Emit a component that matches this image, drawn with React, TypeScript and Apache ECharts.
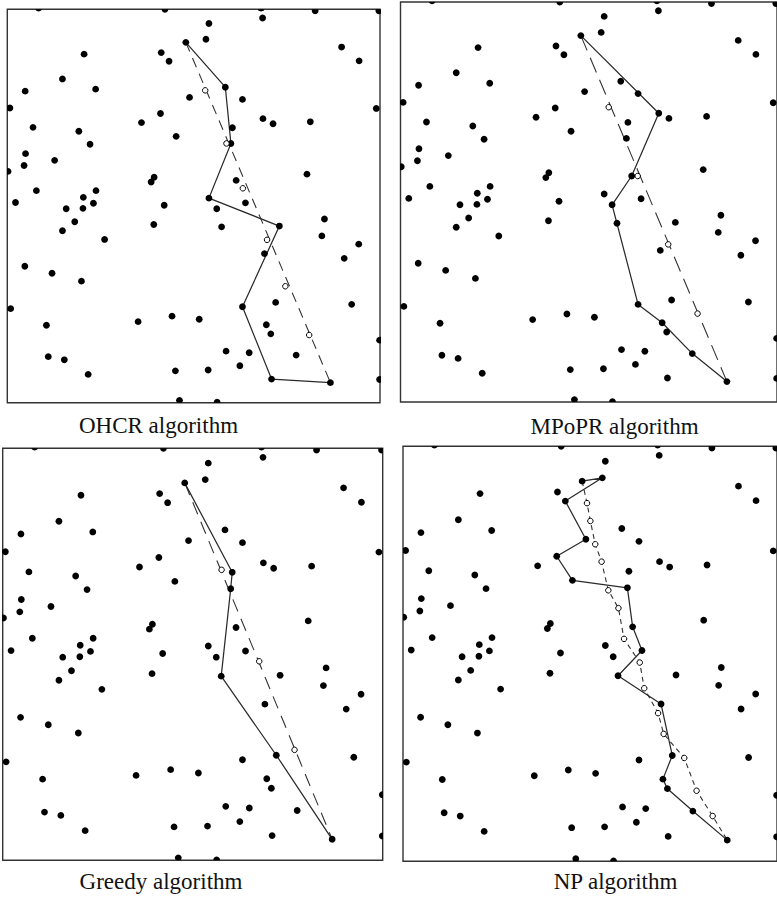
import React, { useEffect, useRef } from "react";
import * as echarts from "echarts";

// Shared scattered nodes, normalised to 0..100 (x to the right, y downward)
const points: number[][] = [
  [42.3, 0.0], [54.1, 3.6], [68.5, 2.2], [82.6, 0.4], [99.7, 0.4],
  [47.9, 8.4], [53.3, 7.6], [89.7, 9.6], [94.4, 13.1], [20.6, 11.4],
  [41.3, 11.0], [43.4, 13.2], [14.8, 17.7], [23.7, 20.3], [4.8, 20.8],
  [58.5, 19.8], [48.9, 22.4], [63.1, 22.9], [0.7, 25.1], [99.0, 25.2],
  [41.1, 26.5], [36.0, 28.8], [68.6, 27.8], [71.3, 29.1], [81.3, 28.6],
  [6.9, 30.0], [19.2, 31.0], [60.4, 30.1], [45.3, 32.3], [22.2, 34.3],
  [60.0, 34.1], [4.9, 36.7], [4.5, 39.7], [12.7, 38.4], [0.2, 41.2],
  [39.4, 42.7], [38.6, 43.9], [80.4, 41.9], [61.4, 43.5], [7.8, 46.1],
  [23.8, 46.1], [20.4, 47.8], [2.2, 49.1], [23.1, 49.3], [54.1, 48.0],
  [42.1, 49.8], [63.9, 49.2], [15.8, 50.7], [20.3, 50.6], [56.2, 50.7],
  [18.1, 54.0], [14.8, 56.3], [39.3, 54.7], [57.5, 55.3], [73.0, 55.1],
  [85.1, 53.3], [84.4, 57.6], [94.3, 59.7], [26.1, 58.5], [69.0, 62.1],
  [90.4, 63.3], [4.7, 65.3], [12.0, 67.1], [19.9, 69.1], [0.9, 76.1],
  [63.1, 75.6], [72.0, 74.5], [92.4, 75.0], [10.5, 80.3], [35.1, 79.4],
  [44.2, 78.0], [51.5, 78.8], [69.5, 80.2], [70.7, 82.5], [99.9, 84.1],
  [11.0, 88.3], [15.3, 89.1], [58.7, 86.9], [64.9, 87.3], [62.4, 90.6],
  [77.5, 87.9], [21.7, 92.8], [45.1, 91.9], [53.9, 91.7], [70.9, 94.0],
  [86.7, 94.9], [99.9, 94.1], [46.2, 99.4], [56.3, 99.9],
  [8.4, -0.3], [68.1, -0.3],
];

const pathStart = [47.9, 8.4];
const pathEnd = [86.7, 94.9];

const ohcrRoute = [
  [47.9, 8.4], [58.5, 19.8], [60.0, 34.1], [54.1, 48.0], [73.0, 55.1],
  [63.1, 75.6], [70.9, 94.0], [86.7, 94.9],
];
const ohcrWaypoints = [
  [53.1, 20.6], [58.8, 34.1], [63.2, 45.5], [69.7, 58.6], [74.6, 70.4], [81.0, 82.8],
];

const mpoprRoute = [
  [47.9, 8.4], [68.6, 27.8], [61.4, 43.5], [56.2, 50.7], [63.1, 75.6],
  [69.5, 80.2], [77.5, 87.9], [86.7, 94.9],
];
const mpoprWaypoints = [
  [55.3, 26.3], [63.0, 43.5], [71.1, 60.6], [78.9, 77.9],
];

const greedyRoute = [
  [47.9, 8.4], [60.4, 30.1], [60.0, 34.1], [57.5, 55.3], [72.0, 74.5], [86.7, 94.9],
];
const greedyWaypoints = [
  [57.6, 29.5], [67.5, 51.7], [76.8, 73.2],
];

const npRoute = [
  [47.9, 8.4], [53.3, 7.6], [43.4, 13.2], [48.9, 22.4], [41.1, 26.5],
  [45.3, 32.3], [60.0, 34.1], [61.4, 43.5], [63.9, 49.2], [57.5, 55.3],
  [69.0, 62.1], [72.0, 74.5], [69.5, 80.2], [70.7, 82.5], [77.5, 87.9],
  [86.7, 94.9],
];
const npWaypoints = [
  [49.2, 13.7], [50.1, 18.0], [51.4, 23.6], [53.1, 27.8], [54.9, 34.7],
  [57.6, 39.0], [59.1, 46.4], [63.3, 52.1], [64.5, 58.3], [68.2, 64.3],
  [69.7, 69.3], [75.2, 75.1], [78.5, 83.0], [82.8, 89.1],
];

const panelTitles = ["OHCR algorithm", "MPoPR algorithm", "Greedy algorithm", "NP algorithm"];

const panelData = [
  { route: ohcrRoute, waypoints: ohcrWaypoints, guide: [pathStart, pathEnd] },
  { route: mpoprRoute, waypoints: mpoprWaypoints, guide: [pathStart, pathEnd] },
  { route: greedyRoute, waypoints: greedyWaypoints, guide: [pathStart, pathEnd] },
  { route: npRoute, waypoints: npWaypoints, guide: [pathStart, ...npWaypoints, pathEnd] },
];

const layouts = [
  { left: 7.3, top: 9.3, width: 372.7, height: 393.4, dash: [10, 7], labelX: 158.5, labelY: 425.5 },
  { left: 400.5, top: 2, width: 379.5, height: 400, dash: [16, 8], labelX: 614.5, labelY: 426.5 },
  { left: 2.7, top: 448.3, width: 380, height: 412, dash: [13, 8], labelX: 161, labelY: 881.5 },
  { left: 403, top: 446.3, width: 381, height: 415, dash: [5, 4], labelX: 615.5, labelY: 881 },
];

export default function App() {
  const ref = useRef<HTMLDivElement | null>(null);

  useEffect(() => {
    if (!ref.current) return;
    const chart = echarts.init(ref.current, undefined, { renderer: "svg" });

    const grid = layouts.map((l) => ({
      left: l.left,
      top: l.top,
      width: l.width,
      height: l.height,
      show: true,
      borderColor: "#333",
      borderWidth: 1.4,
      backgroundColor: "transparent",
      containLabel: false,
    }));
    const xAxis = layouts.map((_, i) => ({
      type: "value",
      gridIndex: i,
      min: 0,
      max: 100,
      show: false,
    }));
    const yAxis = layouts.map((_, i) => ({
      type: "value",
      gridIndex: i,
      min: 0,
      max: 100,
      inverse: true,
      show: false,
    }));

    const series: any[] = [];
    panelData.forEach((p, i) => {
      series.push({
        type: "line",
        xAxisIndex: i,
        yAxisIndex: i,
        data: p.guide,
        symbol: "none",
        silent: true,
        z: 2,
        lineStyle: { color: "#333", width: 1.1, type: layouts[i].dash },
      });
      series.push({
        type: "line",
        xAxisIndex: i,
        yAxisIndex: i,
        data: p.route,
        symbol: "none",
        silent: true,
        z: 3,
        lineStyle: { color: "#2a2a2a", width: 1.25, type: "solid" },
      });
      series.push({
        type: "custom",
        xAxisIndex: i,
        yAxisIndex: i,
        data: points,
        clip: true,
        silent: true,
        z: 4,
        encode: { x: 0, y: 1 },
        renderItem: (_params: any, api: any) => {
          const c = api.coord([api.value(0), api.value(1)]);
          return {
            type: "circle",
            shape: { cx: c[0], cy: c[1], r: 3.4 },
            style: { fill: "#000" },
          };
        },
      });
      series.push({
        type: "scatter",
        xAxisIndex: i,
        yAxisIndex: i,
        data: p.waypoints,
        symbol: "circle",
        symbolSize: 5.5,
        silent: true,
        z: 5,
        itemStyle: { color: "#fff", borderColor: "#000", borderWidth: 1, opacity: 1 },
      });
    });

    const graphic = layouts.map((l, i) => ({
      type: "text",
      x: l.labelX,
      y: l.labelY,
      z: 10,
      style: {
        text: panelTitles[i],
        fontFamily: "Liberation Serif",
        fontSize: 23,
        fill: "#111",
        textAlign: "center",
        textVerticalAlign: "middle",
        align: "center",
        verticalAlign: "middle",
      },
    }));

    chart.setOption({
      animation: false,
      backgroundColor: "#fff",
      grid,
      xAxis,
      yAxis,
      series,
      graphic,
    });

    return () => {
      chart.dispose();
    };
  }, []);

  return (
    <div
      ref={ref}
      style={{ position: "absolute", left: 0, top: 0, width: 777, height: 897, background: "#fff" }}
    />
  );
}
